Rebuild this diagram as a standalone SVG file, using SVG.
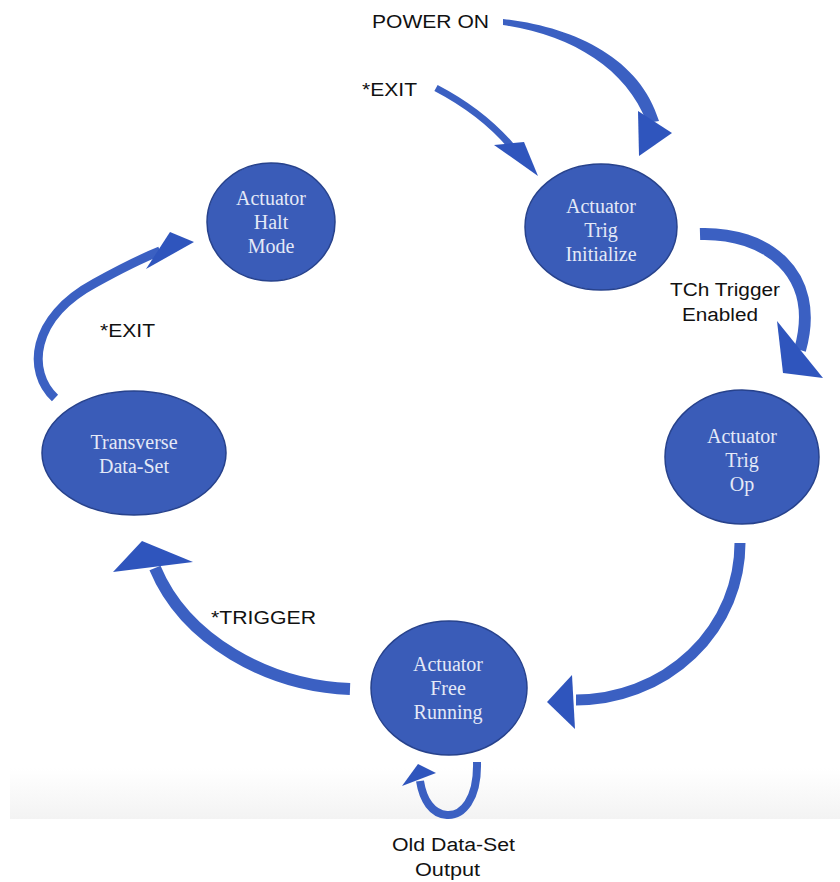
<svg xmlns="http://www.w3.org/2000/svg" width="840" height="882" viewBox="0 0 840 882">
  <defs>
    <linearGradient id="floor" x1="0" y1="0" x2="0" y2="1">
      <stop offset="0" stop-color="#ffffff"/>
      <stop offset="1" stop-color="#f3f3f3"/>
    </linearGradient>
    <style>
      .node ellipse { fill: #3a5cb8; stroke: #27428c; stroke-width: 1.5; }
      .node text { font-family: "Liberation Serif", "Times New Roman", serif; font-size: 20px; fill: #e4e9f7; text-anchor: middle; }
      .shaft { fill: none; stroke: #3b60c2; stroke-linecap: butt; }
      .taper { fill: #3b60c2; stroke: none; }
      .head { fill: #2f55bd; }
      .label { font-family: "Liberation Sans", Arial, sans-serif; font-size: 18px; fill: #111111; }
    </style>
  </defs>

  <rect x="0" y="0" width="840" height="882" fill="#ffffff"/>
  <!-- light floor band under the self loop -->
  <rect x="10" y="768" width="830" height="51" fill="url(#floor)"/>

  <!-- connectors -->
  <g id="connectors">
    <!-- POWER ON -> Trig Initialize (tapered band, thin at the tail) -->
    <path class="taper" d="M 503 19 C 574 27 640 58 659 121 L 647 123 C 626 67 570 35 503 25 Z"/>
    <polygon class="head" points="638,111 672,133 639,156"/>

    <!-- *EXIT -> Trig Initialize -->
    <path class="shaft" stroke-width="7" d="M 436 88 Q 482 112 511 146"/>
    <polygon class="head" points="494,145 524,142 538,176"/>

    <!-- Trig Initialize -> Trig Op -->
    <path class="shaft" stroke-width="12" d="M 700 234 C 765 232 822 272 800 350"/>
    <polygon class="head" points="777,321 823,378 783,373"/>

    <!-- Trig Op -> Free Running -->
    <path class="shaft" stroke-width="11" d="M 740 543 A 164 157 0 0 1 576 700"/>
    <polygon class="head" points="572,675 547,702 575,729"/>

    <!-- Free Running self loop -->
    <path class="shaft" stroke-width="8" d="M 477 762 C 478 800 462 816 447 815 C 432 814 423 800 420 781"/>
    <polygon class="head" points="418,764 436,773 402,786"/>

    <!-- Free Running -> Transverse Data-Set -->
    <path class="shaft" stroke-width="12" d="M 350 689 C 268 686 185 640 155 568"/>
    <polygon class="head" points="113,572 142,541 193,562"/>

    <!-- Transverse Data-Set -> Halt Mode -->
    <path class="shaft" stroke-width="9" d="M 55 398 C 27 372 30 318 95 283 C 122 268 140 259 160 251"/>
    <polygon class="head" points="170,232 194,242 146,269"/>
  </g>

  <!-- connector labels -->
  <g id="labels">
    <text class="label" x="372" y="28" textLength="117" lengthAdjust="spacingAndGlyphs">POWER ON</text>
    <text class="label" x="362" y="96" textLength="55" lengthAdjust="spacingAndGlyphs">*EXIT</text>
    <text class="label" x="670" y="296" textLength="110" lengthAdjust="spacingAndGlyphs">TCh Trigger</text>
    <text class="label" x="682" y="321" textLength="76" lengthAdjust="spacingAndGlyphs">Enabled</text>
    <text class="label" x="100" y="337" textLength="55" lengthAdjust="spacingAndGlyphs">*EXIT</text>
    <text class="label" x="211" y="624" textLength="105" lengthAdjust="spacingAndGlyphs">*TRIGGER</text>
    <text class="label" x="392" y="851" textLength="123" lengthAdjust="spacingAndGlyphs">Old Data-Set</text>
    <text class="label" x="415" y="876" textLength="65" lengthAdjust="spacingAndGlyphs">Output</text>
  </g>

  <!-- nodes -->
  <g id="halt-mode" class="node">
    <ellipse cx="271" cy="222" rx="64" ry="59"/>
    <text x="271" y="205">Actuator</text>
    <text x="271" y="229">Halt</text>
    <text x="271" y="253">Mode</text>
  </g>

  <g id="trig-initialize" class="node">
    <ellipse cx="601" cy="227" rx="76" ry="63"/>
    <text x="601" y="213">Actuator</text>
    <text x="601" y="237">Trig</text>
    <text x="601" y="261">Initialize</text>
  </g>

  <g id="trig-op" class="node">
    <ellipse cx="742" cy="457" rx="77" ry="67"/>
    <text x="742" y="443">Actuator</text>
    <text x="742" y="467">Trig</text>
    <text x="742" y="491">Op</text>
  </g>

  <g id="free-running" class="node">
    <ellipse cx="449" cy="688" rx="78" ry="67"/>
    <text x="448" y="671">Actuator</text>
    <text x="448" y="695">Free</text>
    <text x="448" y="719">Running</text>
  </g>

  <g id="transverse-data-set" class="node">
    <ellipse cx="134" cy="453" rx="92" ry="62"/>
    <text x="134" y="449">Transverse</text>
    <text x="134" y="473">Data-Set</text>
  </g>
</svg>
